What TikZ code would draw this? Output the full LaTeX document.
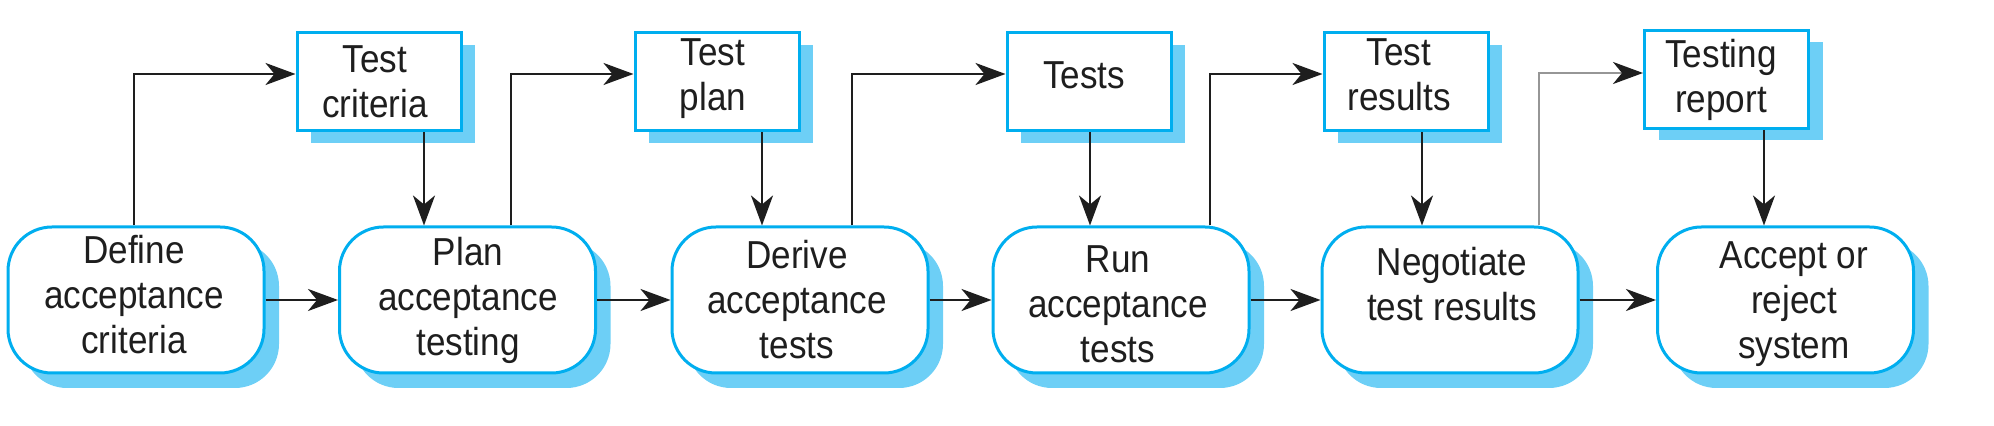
\documentclass[tikz,border=0pt]{standalone}
\usepackage{fontspec}
\setmainfont{Liberation Sans}[FakeStretch=0.9]
\usetikzlibrary{arrows.meta,shadows}
\definecolor{bord}{RGB}{0,174,239}
\definecolor{shblue}{RGB}{109,207,246}
\definecolor{linegray}{RGB}{150,150,150}
\definecolor{ink}{RGB}{30,30,30}
\begin{document}
\begin{tikzpicture}[x=0.5pt,y=-0.5pt,
 mainbox/.style={draw=bord, line width=1.5pt, fill=white, rounded corners=22pt,
   minimum width=128pt, minimum height=73pt, inner sep=0pt,
   general shadow={shadow xshift=7.5pt, shadow yshift=-7.5pt, fill=shblue}},
 docbox/.style={draw=bord, line width=1.5pt, fill=white,
   minimum width=82pt, minimum height=49pt, inner sep=0pt,
   general shadow={shadow xshift=7pt, shadow yshift=-6pt, fill=shblue}},
 txt/.style={align=center, inner sep=0pt, text=ink, font=\fontsize{19.5}{22.5}\selectfont},
 arr/.style={line width=1.4pt, draw=ink, -{Stealth[length=15pt,width=11pt,inset=4.5pt]}},
 grayarr/.style={line width=1.4pt, draw=linegray, -{Stealth[length=15pt,width=11pt,inset=4.5pt,color=ink]}},
]
\useasboundingbox (0,0) rectangle (1994,426);

% main process boxes
\node[mainbox] (b1) at (136,300) {};
\node[mainbox] (b2) at (467.5,300) {};
\node[mainbox] (b3) at (800,300) {};
\node[mainbox] (b4) at (1121,300) {};
\node[mainbox] (b5) at (1450,300) {};
\node[mainbox] (b6) at (1785.5,300) {};

% document boxes
\node[docbox] (d1) at (379,82) {};
\node[docbox] (d2) at (717,82) {};
\node[docbox] (d3) at (1089,82) {};
\node[docbox] (d4) at (1406,82) {};
\node[docbox] (d5) at (1726.5,79.5) {};

% texts
\node[txt] (t1) at (134,295) {Define\\acceptance\\criteria};
\node[txt] (t2) at (468,300) {Plan\\acceptance\\testing};
\node[txt] (t3) at (797,300) {Derive\\acceptance\\tests};
\node[txt] (t4) at (1118,304) {Run\\acceptance\\tests};
\node[txt] (t5) at (1452,284) {Negotiate\\test results};
\node[txt] (t6) at (1794,304) {Accept or\\reject\\system};

\node[txt] (s1) at (375,82) {Test\\criteria};
\node[txt] (s2) at (713,79) {Test\\plan};
\node[txt] (s3) at (1084,75.5) {Tests};
\node[txt] (s4) at (1399,74.5) {Test\\results};
\node[txt] (s5) at (1721,79.5) {Testing\\report};

% horizontal flow
\foreach \a/\b in {b1/b2,b2/b3,b3/b4,b4/b5,b5/b6}
  \draw[arr] (\a.east) -- (\b.west);

% down arrows
\coordinate (dn1) at (424,0);
\coordinate (dn2) at (762,0);
\coordinate (dn3) at (1090,0);
\coordinate (dn4) at (1422,0);
\coordinate (dn5) at (1764,0);
\draw[arr] (d1.south -| dn1) -- (b2.north -| dn1);
\draw[arr] (d2.south -| dn2) -- (b3.north -| dn2);
\draw[arr] (d3.south -| dn3) -- (b4.north -| dn3);
\draw[arr] (d4.south -| dn4) -- (b5.north -| dn4);
\draw[arr] (d5.south -| dn5) -- (b6.north -| dn5);

% up lines
\coordinate (up1) at (134,74);
\coordinate (up2) at (511,74);
\coordinate (up3) at (852,74);
\coordinate (up4) at (1210,74);
\coordinate (up5) at (1539,73);
\draw[arr] (b1.north -| up1) |- (d1.west |- up1);
\draw[arr] (b2.north -| up2) |- (d2.west |- up2);
\draw[arr] (b3.north -| up3) |- (d3.west |- up3);
\draw[arr] (b4.north -| up4) |- (d4.west |- up4);
\draw[grayarr] (b5.north -| up5) |- (d5.west |- up5);
\end{tikzpicture}
\end{document}
